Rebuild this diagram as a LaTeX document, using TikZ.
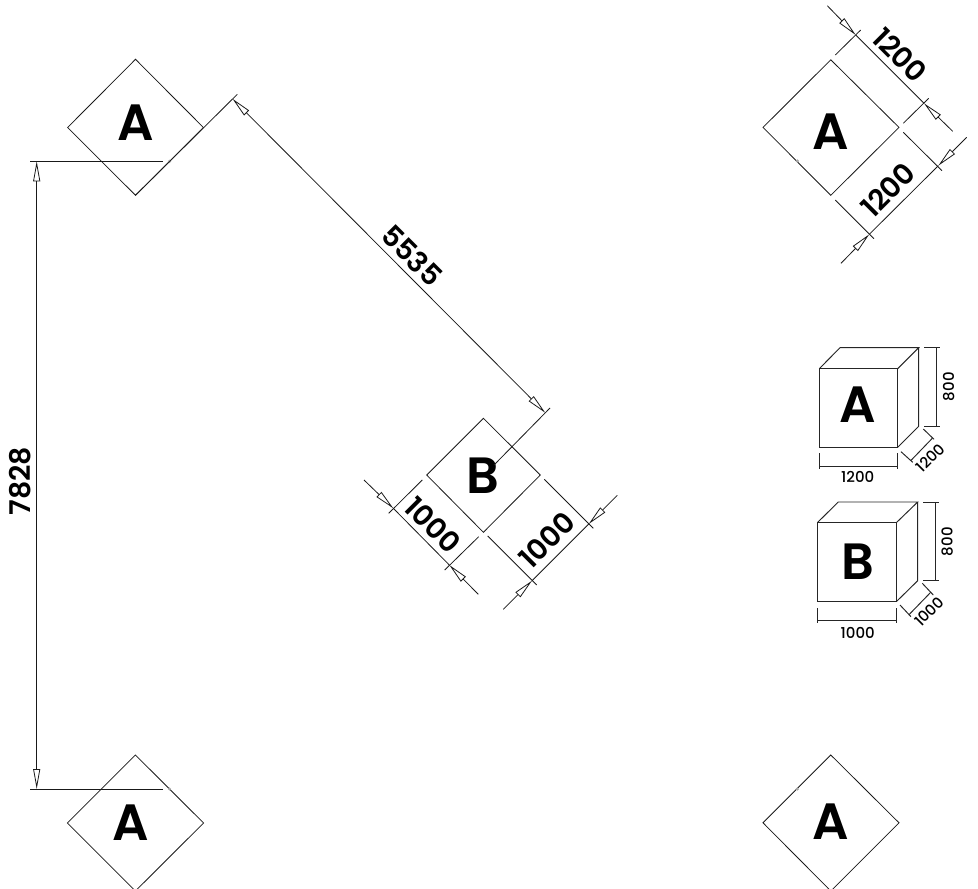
\documentclass[tikz,border=0pt]{standalone}
\usepackage{fontspec}
\setmainfont{Poppins}[BoldFont={Poppins SemiBold}]
\newfontfamily\smallfont{Poppins Medium}
\usetikzlibrary{arrows.meta}
\tikzset{
  ln/.style={draw=black!90,line width=0.8pt},
  boxln/.style={draw=black!85,line width=0.95pt},
  dimtip/.style={ln,-{Triangle[open,length=20pt,width=7pt]}},
  dimboth/.style={ln,{Triangle[open,length=20pt,width=7pt]}-{Triangle[open,length=20pt,width=7pt]}},
  letter/.style={inner sep=0pt,font=\fontsize{51}{51}\selectfont\bfseries},
  bigdim/.style={inner sep=0pt,font=\fontsize{28.5}{29}\selectfont\bfseries},
  smalldim/.style={inner sep=0pt,font=\fontsize{15}{15}\selectfont\smallfont},
  speck/.style={fill=black!35,draw=none}
}
\begin{document}
\begin{tikzpicture}[x=1pt,y=-1pt]
\useasboundingbox (0,0) rectangle (978,889);
% diamonds
\draw[ln] (135.5,59.3) coordinate (a1t) -- (203.4,127.5) coordinate (a1r) -- (135.5,195.3) coordinate (a1b) -- (67.6,127.5) coordinate (a1l) -- cycle;
\draw[ln] (135.4,755) coordinate (a3t) -- (203.6,823) coordinate (a3r) -- (135.4,891) coordinate (a3b) -- (67.4,823) coordinate (a3l) -- cycle;
\draw[ln] (830.8,59.8) coordinate (a2t) -- (899,127.4) coordinate (a2r) -- (830.8,195.3) coordinate (a2b) -- (763,127.4) coordinate (a2l) -- cycle;
\draw[ln] (830.8,755) coordinate (a4t) -- (899,822.8) coordinate (a4r) -- (830.8,891) coordinate (a4b) -- (763,822.8) coordinate (a4l) -- cycle;
\draw[ln] (483.4,418.3) coordinate (bt) -- (540.3,475) coordinate (br) -- (483.4,532.3) coordinate (bb) -- (426.7,475) coordinate (bl) -- cycle;
% letters
\node[letter] (la1) at (135.5,123) {A};
\node[letter] (la2) at (830.7,131.7) {A};
\node[letter] (la3) at (131,822.7) {A};
\node[letter] (la4) at (831,821.5) {A};
\node[letter] (lb) at (483.3,476) {B};
% 7828
\coordinate (e1a) at (30,161.3); \coordinate (e1b) at (163,161.3);
\coordinate (e2a) at (30,789); \coordinate (e2b) at (163,789);
\coordinate (t1) at (36.7,161.3); \coordinate (t2) at (36.7,789);
\draw[ln] (e1a) -- (e1b);
\draw[ln] (e2a) -- (e2b);
\draw[dimboth] (t1) -- (t2);
\node[bigdim,rotate=90] (d7828) at (20.5,481) {7828};
\fill[speck] (169.5,161.3) circle (1.7pt);
\fill[speck] (169.5,789) circle (1.7pt);
\fill[speck] (797.3,161) circle (1.7pt);
\fill[speck] (797.3,789) circle (1.7pt);
% 5535
\coordinate (e3) at (237.3,94.3); \coordinate (e4) at (550,408); \coordinate (e5) at (494,465);
\coordinate (t3) at (232.5,98.8); \coordinate (t4) at (545.3,412.8);
\draw[ln] (a1b) -- (e3);
\draw[ln] (e4) -- (e5);
\draw[dimboth] (t3) -- (t4);
\node[bigdim,rotate=-45] (d5535) at (412,256) {5535};
% A top right dims
\coordinate (f1) at (835.3,55); \coordinate (f2) at (860.7,30); \coordinate (t5) at (855.7,35); \coordinate (o5) at (827.3,5.7);
\coordinate (f3) at (903.3,123.3); \coordinate (f4) at (928.7,98.3); \coordinate (t6) at (924,103.3); \coordinate (o6) at (952.7,131.3);
\draw[ln] (f1) -- (f2); \draw[ln] (f3) -- (f4); \draw[ln] (t5) -- (t6);
\draw[dimtip] (o5) -- (t5); \draw[dimtip] (o6) -- (t6);
\node[bigdim,rotate=-45] (d1200a) at (900,55) {1200};
\coordinate (g1) at (903.3,132.3); \coordinate (g2) at (942,170.7); \coordinate (t7) at (938.3,165.7); \coordinate (o7) at (966.7,137.3);
\coordinate (g3) at (835.3,200); \coordinate (g4) at (874,238.7); \coordinate (t8) at (869.3,234.3); \coordinate (o8) at (841,263.3);
\draw[ln] (g1) -- (g2); \draw[ln] (g3) -- (g4); \draw[ln] (t7) -- (t8);
\draw[dimtip] (o7) -- (t7); \draw[dimtip] (o8) -- (t8);
\node[bigdim,rotate=45] (d1200b) at (888,190) {1200};
% B dims
\coordinate (h1) at (422.3,480); \coordinate (h2) at (388.7,513.3); \coordinate (t9) at (393.3,508.3); \coordinate (o9) at (364,480);
\coordinate (h3) at (478.7,536.7); \coordinate (h4) at (444.7,570); \coordinate (t10) at (449.3,565); \coordinate (o10) at (478.3,594.3);
\draw[ln] (h1) -- (h2); \draw[ln] (h3) -- (h4); \draw[ln] (t9) -- (t10);
\draw[dimtip] (o9) -- (t9); \draw[dimtip] (o10) -- (t10);
\node[bigdim,rotate=-45] (d1000a) at (432.7,525) {1000};
\coordinate (k1) at (544.3,479.3); \coordinate (k2) at (593.3,528.3); \coordinate (t11) at (588.7,524); \coordinate (o11) at (617.3,495.3);
\coordinate (k3) at (487.7,536); \coordinate (k4) at (536.7,585); \coordinate (t12) at (532,580.7); \coordinate (o12) at (503.3,609.3);
\draw[ln] (k1) -- (k2); \draw[ln] (k3) -- (k4); \draw[ln] (t11) -- (t12);
\draw[dimtip] (o11) -- (t11); \draw[dimtip] (o12) -- (t12);
\node[bigdim,rotate=45] (d1000b) at (546.7,540) {1000};
% Box A
\draw[boxln] (819.3,368.7) rectangle (897.7,447.3);
\draw[boxln] (819.3,368.7) -- (840,347.7) -- (918.7,347.7) -- (897.7,368.7);
\draw[boxln] (918.7,347.7) -- (918.7,426.3) -- (897.7,447.3);
\node[letter] (bxa) at (857.7,405) {A};
\draw[boxln] (924.3,347.7) -- (940,347.7);
\draw[boxln] (924.3,426.3) -- (940,426.3);
\draw[boxln] (936,347.7) -- (936,426.3);
\node[smalldim,rotate=90] (bxa8) at (948.7,386.7) {800};
\draw[boxln] (819.3,453.3) -- (819.3,469);
\draw[boxln] (897.7,453.3) -- (897.7,469);
\draw[boxln] (819.3,466) -- (897.7,466);
\node[smalldim] (bxa12) at (857.7,476.7) {1200};
\draw[boxln] (901,451.7) -- (912.7,462.3);
\draw[boxln] (923.3,429) -- (934,439.3);
\draw[boxln] (910.7,460.7) -- (932.3,438.3);
\node[smalldim,rotate=45] (bxa12d) at (930.7,458) {1200};
% Box B
\draw[boxln] (817.3,522.7) rectangle (896.3,601.7);
\draw[boxln] (817.3,522.7) -- (838.3,502) -- (917.7,502) -- (896.3,522.7);
\draw[boxln] (917.7,502) -- (917.7,580.7) -- (896.3,601.7);
\node[letter] (bxb) at (857.7,561.7) {B};
\draw[boxln] (923.3,502) -- (939,502);
\draw[boxln] (923.3,580.7) -- (939,580.7);
\draw[boxln] (935,502) -- (935,580.7);
\node[smalldim,rotate=90] (bxb8) at (947.3,541.7) {800};
\draw[boxln] (817.3,608.3) -- (817.3,623.3);
\draw[boxln] (896.3,608.3) -- (896.3,623.3);
\draw[boxln] (817.3,620.7) -- (896.3,620.7);
\node[smalldim] (bxb10) at (857.7,632.7) {1000};
\draw[boxln] (900,605) -- (911,616.7);
\draw[boxln] (922.3,583.3) -- (933.3,595);
\draw[boxln] (908.7,615) -- (931,592);
\node[smalldim,rotate=45] (bxb10d) at (929.3,611.7) {1000};
\end{tikzpicture}
\end{document}
